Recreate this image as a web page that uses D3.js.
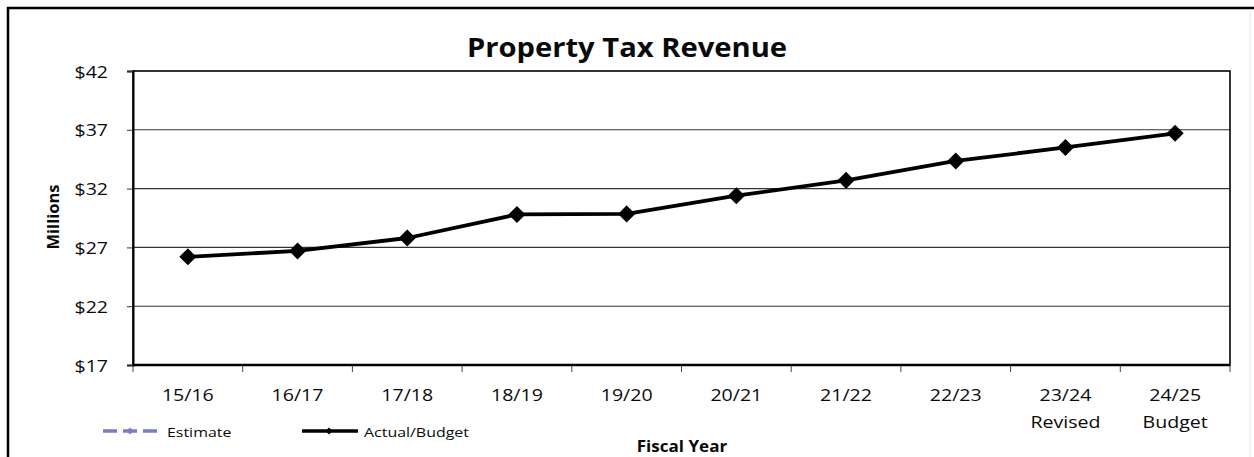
<!DOCTYPE html>
<html>
<head>
<meta charset="utf-8">
<script src="https://cdn.jsdelivr.net/npm/d3@7"></script>
<style>
  html, body { margin: 0; padding: 0; background: #ffffff; }
  svg { display: block; }
  text { font-family: "Open Sans", "Lato", sans-serif; fill: #0a0a0a; }
</style>
</head>
<body>
<svg id="chart" width="1254" height="457"></svg>
<script>
// Fiscal years (first line) and their optional second line
const years = ["15/16", "16/17", "17/18", "18/19", "19/20", "20/21", "21/22", "22/23", "23/24", "24/25"];
const yearNotes = ["", "", "", "", "", "", "", "", "Revised", "Budget"];
// Property tax revenue, millions of dollars
const revenue = [26.2, 26.7, 27.8, 29.8, 29.85, 31.4, 32.7, 34.35, 35.5, 36.7];
// Y axis ticks, millions
const yTicks = [17, 22, 27, 32, 37, 42];

const svg = d3.select("#chart");
const W = 1254, H = 457;
const plot = { left: 133, right: 1230, top: 71, bottom: 365 };
const sx = 1.15; // horizontal widening of text

function widen(sel, k) {
  sel.each(function () {
    const w = this.getComputedTextLength();
    this.setAttribute("textLength", w * k);
    this.setAttribute("lengthAdjust", "spacingAndGlyphs");
  });
}

// outer frame
svg.append("rect").attr("x", 0).attr("y", 0).attr("width", W).attr("height", H).attr("fill", "#fff");
svg.append("line").attr("x1", 7).attr("x2", W).attr("y1", 8).attr("y2", 8)
  .attr("stroke", "#000").attr("stroke-width", 2.5);
svg.append("line").attr("x1", 8).attr("x2", 8).attr("y1", 7).attr("y2", H)
  .attr("stroke", "#000").attr("stroke-width", 2.5);
svg.append("line").attr("x1", 1250).attr("x2", 1250).attr("y1", 12).attr("y2", H)
  .attr("stroke", "#e6e6e6").attr("stroke-width", 1);

const x = d3.scaleBand().domain(years).range([plot.left, plot.right]).padding(0);
const y = d3.scaleLinear().domain([17, 42]).range([plot.bottom, plot.top]);

// gridlines
svg.append("g").selectAll("line").data(yTicks.filter(v => v > 17 && v < 42)).join("line")
  .attr("x1", plot.left).attr("x2", plot.right)
  .attr("y1", d => y(d)).attr("y2", d => y(d))
  .attr("stroke", "#333").attr("stroke-width", 1.1);

// plot frame
svg.append("rect").attr("x", plot.left).attr("y", plot.top)
  .attr("width", plot.right - plot.left).attr("height", plot.bottom - plot.top)
  .attr("fill", "none").attr("stroke", "#000").attr("stroke-width", 1.6);

// y axis
const yAxis = d3.axisLeft(y).tickValues(yTicks).tickSize(6).tickPadding(19)
  .tickFormat(d => "$" + d);
const gy = svg.append("g").attr("transform", `translate(${plot.left},0)`).call(yAxis);
gy.select(".domain").attr("stroke", "#000").attr("stroke-width", 2);
gy.selectAll(".tick line").attr("stroke", "#333");
gy.selectAll(".tick text").attr("font-size", 17).attr("font-family", "Open Sans").attr("fill", "#0a0a0a")
  .attr("dy", "0.36em").call(widen, sx);

// x axis: ticks at category boundaries
const boundaries = d3.range(years.length + 1).map(i => plot.left + i * x.bandwidth());
svg.append("g").selectAll("line").data(boundaries).join("line")
  .attr("x1", d => d).attr("x2", d => d)
  .attr("y1", plot.bottom).attr("y2", plot.bottom + 7)
  .attr("stroke", "#444").attr("stroke-width", 1);
svg.append("line").attr("x1", plot.left).attr("x2", plot.right)
  .attr("y1", plot.bottom).attr("y2", plot.bottom)
  .attr("stroke", "#000").attr("stroke-width", 2.4);

const xl = svg.append("g").selectAll("g").data(years).join("g");
xl.append("text")
  .attr("x", d => x(d) + x.bandwidth() / 2).attr("y", 401)
  .attr("text-anchor", "middle").attr("font-size", 17)
  .text(d => d).call(widen, sx);
xl.append("text")
  .attr("x", d => x(d) + x.bandwidth() / 2).attr("y", 428)
  .attr("text-anchor", "middle").attr("font-size", 17)
  .text((d, i) => yearNotes[i]).call(widen, sx);

// revenue line
const line = d3.line().x((d, i) => x(years[i]) + x.bandwidth() / 2).y(d => y(d));
svg.append("path").datum(revenue).attr("d", line)
  .attr("fill", "none").attr("stroke", "#000").attr("stroke-width", 3.8)
  .attr("stroke-linejoin", "round");

const diamond = d3.symbol().type(d3.symbolSquare).size(145);
svg.append("g").selectAll("path").data(revenue).join("path")
  .attr("d", diamond)
  .attr("transform", (d, i) => `translate(${x(years[i]) + x.bandwidth() / 2},${y(d)}) rotate(45)`)
  .attr("fill", "#000");

// title
svg.append("text").attr("x", 627).attr("y", 57).attr("text-anchor", "middle")
  .attr("font-size", 27).attr("font-weight", 700).text("Property Tax Revenue").call(widen, 1.08);

// axis titles
svg.append("text").attr("transform", "translate(59,217) rotate(-90)")
  .attr("text-anchor", "middle").attr("font-size", 16.5).attr("font-weight", 700).text("Millions");
svg.append("text").attr("x", 682).attr("y", 452).attr("text-anchor", "middle")
  .attr("font-size", 15.5).attr("font-weight", 700).text("Fiscal Year").call(widen, 1.1);

// legend
const lg = svg.append("g");
lg.append("line").attr("x1", 103).attr("x2", 158).attr("y1", 431).attr("y2", 431)
  .attr("stroke", "#7c7cc0").attr("stroke-width", 3.5).attr("stroke-dasharray", "14,6");
lg.append("path").attr("d", d3.symbol().type(d3.symbolSquare).size(24))
  .attr("transform", "translate(130,431) rotate(45)").attr("fill", "#7c7cc0");
lg.append("text").attr("x", 167).attr("y", 437).attr("font-size", 13.5).text("Estimate").call(widen, 1.18);

lg.append("line").attr("x1", 302).attr("x2", 358).attr("y1", 431).attr("y2", 431)
  .attr("stroke", "#000").attr("stroke-width", 3.5);
lg.append("path").attr("d", d3.symbol().type(d3.symbolSquare).size(24))
  .attr("transform", "translate(329,431) rotate(45)").attr("fill", "#000");
lg.append("text").attr("x", 364).attr("y", 437).attr("font-size", 13.5).text("Actual/Budget").call(widen, 1.18);
</script>
</body>
</html>
